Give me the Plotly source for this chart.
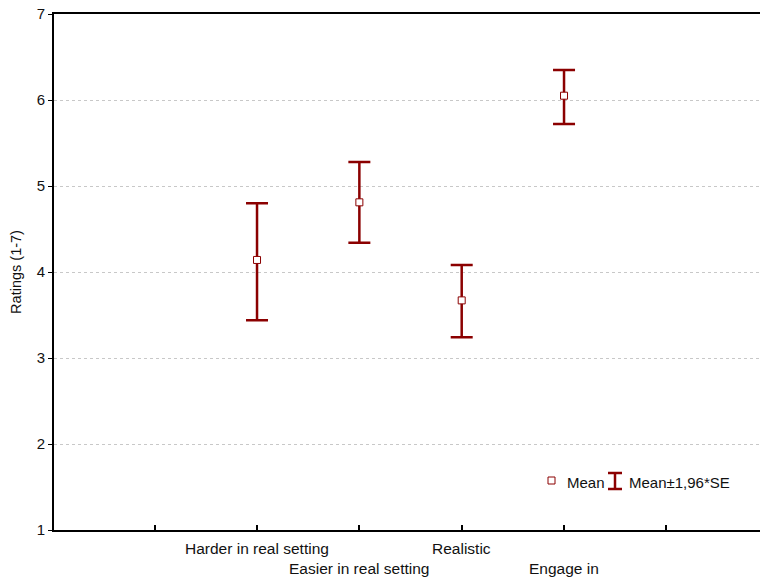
import plotly.graph_objects as go

categories = ["Harder in real setting", "Easier in real setting", "Realistic", "Engage in"]
cat_pos = [2, 3, 4, 5]
means = [4.14, 4.81, 3.67, 6.05]
upper = [4.80, 5.28, 4.08, 6.35]
lower = [3.44, 4.34, 3.24, 5.72]
y_ticks = [1, 2, 3, 4, 5, 6, 7]

RED = "#8b0000"
FONT = "Arial, Liberation Sans, sans-serif"

err_plus = [u - m for u, m in zip(upper, means)]
err_minus = [m - l for m, l in zip(means, lower)]

fig = go.Figure()
fig.add_trace(go.Scatter(
    x=cat_pos, y=means, mode="markers",
    marker=dict(symbol="square", size=7, color="white", line=dict(color=RED, width=1)),
    error_y=dict(type="data", symmetric=False, array=err_plus, arrayminus=err_minus,
                 color=RED, thickness=2.5, width=11),
    showlegend=False, hoverinfo="skip",
))

L, T, R, B = 54, 14, 0, 49
W, H = 760, 579
pw, ph = W - L - R, H - T - B

def px_x(px):
    return (px - L) / pw

def px_y(py):
    return (H - B - py) / ph

annotations = []
for i, (c, p) in enumerate(zip(categories, cat_pos)):
    row = i % 2
    annotations.append(dict(x=p, y=px_y(548 if row == 0 else 568), xref="x", yref="paper",
                            text=c, showarrow=False, xanchor="center", yanchor="middle",
                            font=dict(family=FONT, size=15.5, color="#111")))
annotations.append(dict(x=px_x(565), y=px_y(482), xref="paper", yref="paper", text="Mean",
                        showarrow=False, xanchor="left", yanchor="middle",
                        font=dict(family=FONT, size=15, color="#111")))
annotations.append(dict(x=px_x(627), y=px_y(482), xref="paper", yref="paper", text="Mean±1,96*SE",
                        showarrow=False, xanchor="left", yanchor="middle",
                        font=dict(family=FONT, size=15, color="#111")))

shapes = [
    dict(type="rect", xref="paper", yref="paper", x0=px_x(548), x1=px_x(555), y0=px_y(484), y1=px_y(477),
         line=dict(color=RED, width=1), fillcolor="white"),
    dict(type="line", xref="paper", yref="paper", x0=px_x(615), x1=px_x(615), y0=px_y(473), y1=px_y(489),
         line=dict(color=RED, width=2.5)),
    dict(type="line", xref="paper", yref="paper", x0=px_x(608), x1=px_x(622), y0=px_y(473), y1=px_y(473),
         line=dict(color=RED, width=2.5)),
    dict(type="line", xref="paper", yref="paper", x0=px_x(608), x1=px_x(622), y0=px_y(489), y1=px_y(489),
         line=dict(color=RED, width=2.5)),
]

fig.update_layout(
    width=W, height=H,
    margin=dict(l=L, r=R, t=T, b=B, pad=0),
    paper_bgcolor="white", plot_bgcolor="white",
    font=dict(family=FONT, size=15, color="#111"),
    annotations=annotations, shapes=shapes,
    xaxis=dict(range=[0.016, 6.915], tickvals=[1, 2, 3, 4, 5, 6], showticklabels=False,
               ticks="inside", ticklen=5, tickwidth=1.5, tickcolor="black",
               showline=True, linecolor="black", linewidth=2, mirror=True,
               showgrid=False, zeroline=False, fixedrange=True),
    yaxis=dict(range=[1, 7], tickvals=y_ticks, ticks="outside", ticklen=4, tickwidth=1,
               tickcolor="black", showline=True, linecolor="black", linewidth=2,
               showgrid=True, gridcolor="#c8c8c8", griddash="dot", gridwidth=1,
               zeroline=False, tickfont=dict(size=15),
               title=dict(text="Ratings (1-7)", font=dict(size=14.5), standoff=12)),
)

fig.write_html("out.html")
